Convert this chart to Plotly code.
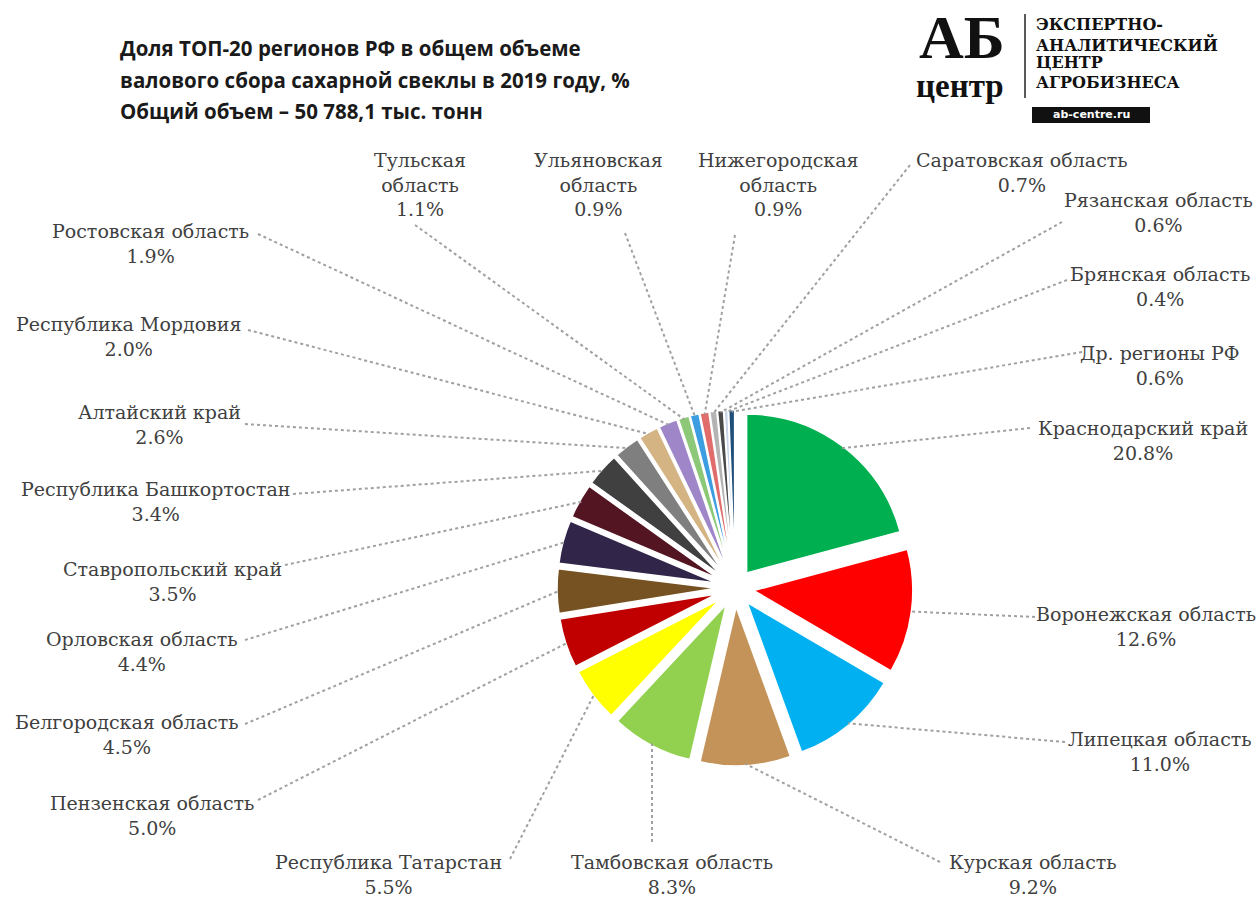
import math
import plotly.graph_objects as go

W, H = 1256, 902

# ---------------- data ----------------
regions = [
    "Краснодарский край", "Воронежская область", "Липецкая область",
    "Курская область", "Тамбовская область", "Республика Татарстан",
    "Пензенская область", "Белгородская область", "Орловская область",
    "Ставропольский край", "Республика Башкортостан", "Алтайский край",
    "Республика Мордовия", "Ростовская область", "Тульская область",
    "Ульяновская область", "Нижегородская область", "Саратовская область",
    "Рязанская область", "Брянская область", "Др. регионы РФ",
]
shares = [20.8, 12.6, 11.0, 9.2, 8.3, 5.5, 5.0, 4.5, 4.4, 3.5, 3.4,
          2.6, 2.0, 1.9, 1.1, 0.9, 0.9, 0.7, 0.6, 0.4, 0.6]

title_lines = [
    "Доля ТОП-20 регионов РФ в общем объеме",
    "валового сбора сахарной свеклы в 2019 году, %",
    "Общий объем – 50 788,1 тыс. тонн",
]

# ---------------- styles / layout ----------------
colors = [
    "#00b050", "#ff0000", "#00b0f0", "#c4935a", "#92d050", "#ffff00",
    "#c00000", "#765222", "#32254a", "#531522", "#404040", "#7f7f7f",
    "#d4b483", "#9e86c8", "#8cc878", "#3c9ee0", "#e06c6c", "#b4b4b4",
    "#4a4a4a", "#c8d4e8", "#1f4e79",
]
wrap_names = {"Тульская область", "Ульяновская область", "Нижегородская область"}
SERIF = "DejaVu Serif"

# label block centres (px) and leader-line end near label (px)
label_pos = [
    (1143, 440), (1146, 626), (1160, 751), (1033, 874), (672, 874),
    (388, 874), (152, 815), (127, 734), (142, 651), (172, 581),
    (155, 501), (159, 424), (128, 336), (150, 243), (420, 185),
    (598, 185), (778, 185), (1022, 173), (1158, 212), (1160, 286),
    (1160, 365),
]
line_end = [
    (1030, 428), (1035, 617), (1065, 742), (940, 862), (652, 842),
    (510, 859), (258, 800), (245, 724), (245, 640), (285, 565),
    (293, 494), (245, 424), (248, 330), (258, 234), (415, 225),
    (625, 233), (735, 235), (910, 165), (1062, 222), (1067, 280),
    (1082, 352),
]

CX, CY, S = 735, 588, 178   # pie centre and half-size of pie box (px)
PULL = 0.12

fig = go.Figure()
fig.add_trace(go.Pie(
    labels=regions,
    values=shares,
    sort=False,
    direction="clockwise",
    rotation=0,
    pull=PULL,
    marker=dict(colors=colors, line=dict(color="white", width=1.5)),
    textinfo="none",
    hoverinfo="label+percent",
    showlegend=False,
    domain=dict(x=[(CX - S) / W, (CX + S) / W],
                y=[1 - (CY + S) / H, 1 - (CY - S) / H]),
))

shapes = []
annotations = []
total = sum(shares)
cum = 0.0
for name, v, (lx, ly), (ex, ey) in zip(regions, shares, label_pos, line_end):
    theta = 2 * math.pi * (cum + v / 2) / total
    cum += v
    px = CX + S * 0.99 * math.sin(theta)
    py = CY - S * 0.99 * math.cos(theta)
    shapes.append(dict(
        type="line", xref="paper", yref="paper",
        x0=ex / W, y0=1 - ey / H, x1=px / W, y1=1 - py / H,
        line=dict(color="#a0a0a0", width=2, dash="dot"),
    ))
    disp = name.replace(" ", "<br>") if name in wrap_names else name
    annotations.append(dict(
        text=f"{disp}<br>{v:.1f}%", x=lx / W, y=1 - ly / H,
        xref="paper", yref="paper", xanchor="center", yanchor="middle",
        showarrow=False, align="center",
        font=dict(family=SERIF, size=19, color="#404040"),
    ))

# title
for i, t in enumerate(title_lines):
    annotations.append(dict(
        text=f"<b>{t}</b>", x=118 / W, y=1 - (48 + 31.5 * i) / H,
        xref="paper", yref="paper", xanchor="left", yanchor="middle",
        showarrow=False,
        font=dict(family="Open Sans", size=20.5, color="#1a1a1a"),
    ))

# logo
annotations.append(dict(
    text="<b>АБ</b>", x=962 / W, y=1 - 37 / H, xref="paper", yref="paper",
    xanchor="center", yanchor="middle", showarrow=False,
    font=dict(family="Liberation Serif", size=62, color="#111111"),
))
annotations.append(dict(
    text="<b>центр</b>", x=960 / W, y=1 - 86 / H, xref="paper", yref="paper",
    xanchor="center", yanchor="middle", showarrow=False,
    font=dict(family="Liberation Serif", size=33, color="#111111"),
))
for i, t in enumerate(["ЭКСПЕРТНО-", "АНАЛИТИЧЕСКИЙ", "ЦЕНТР", "АГРОБИЗНЕСА"]):
    annotations.append(dict(
        text=f"<b>{t}</b>", x=1034 / W, y=1 - (25 + 19 * i) / H,
        xref="paper", yref="paper", xanchor="left", yanchor="middle",
        showarrow=False,
        font=dict(family="DejaVu Serif", size=16, color="#111111"),
    ))
shapes.append(dict(type="line", xref="paper", yref="paper",
                   x0=1025 / W, x1=1025 / W, y0=1 - 14 / H, y1=1 - 98 / H,
                   line=dict(color="#222222", width=1.5)))
shapes.append(dict(type="rect", xref="paper", yref="paper",
                   x0=1032 / W, x1=1150 / W, y0=1 - 107 / H, y1=1 - 123 / H,
                   fillcolor="#111111", line=dict(width=0)))
annotations.append(dict(
    text="<b>ab-centre.ru</b>", x=1091 / W, y=1 - 115 / H,
    xref="paper", yref="paper", xanchor="center", yanchor="middle",
    showarrow=False, font=dict(family="DejaVu Sans", size=11, color="white"),
))

fig.update_layout(
    width=W, height=H,
    margin=dict(l=0, r=0, t=0, b=0),
    paper_bgcolor="white", plot_bgcolor="white",
    shapes=shapes, annotations=annotations,
)

fig.write_html("out.html")
